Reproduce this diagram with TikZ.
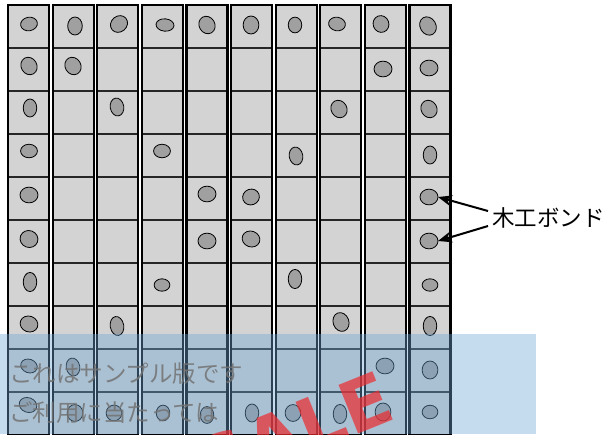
\documentclass[tikz,border=0pt]{standalone}
\usepackage{fontspec}
\newfontfamily\jp{Noto Sans CJK JP}
\newfontfamily\salefont{DejaVu Sans Bold}
\usetikzlibrary{arrows.meta,shapes.geometric}
\definecolor{cellgray}{RGB}{211,211,211}
\definecolor{blobgray}{RGB}{160,160,160}
\definecolor{wmblue}{RGB}{110,167,212}
\definecolor{salered}{RGB}{235,45,50}
\tikzset{
  colbox/.style={fill=cellgray,draw=black,line width=2.2pt},
  rowsep/.style={draw=black!85,line width=2.6pt},
  blob/.style={ellipse,fill=blobgray,draw=black,line width=0.8pt,inner sep=0pt,outer sep=0pt},
  arr/.style={-{Stealth[length=14pt,width=11pt]},line width=2pt,black},
  lbl/.style={font=\jp\fontsize{22.5}{26}\selectfont,inner sep=0pt},
  wmtext/.style={font=\jp\fontsize{23.5}{27}\selectfont,text=black!55,opacity=0.85,inner sep=0pt,anchor=west},
}
\begin{document}
\begin{tikzpicture}[x=1pt,y=-1pt]
\useasboundingbox (0,0) rectangle (615,434);
\clip (0,0) rectangle (615,434);
% columns
\foreach \i in {0,...,9}{
  \pgfmathsetmacro{\xl}{8+44.6*\i}
  \fill[cellgray] (\xl,5) rectangle ++(41,430);
  \foreach \j in {1,...,9}{
    \draw[rowsep] (\xl,5+43*\j) -- ++(41,0);
  }
  \draw[colbox,fill=none] (\xl,5) rectangle ++(41,430);
}
% blobs: col/row/x/y/rx/ry/rot
\foreach \c/\r/\x/\y/\a/\b/\t in {
 1/1/29/24/7.5/6/10, 2/1/75/26/6.5/8/0, 3/1/119/24/8/7/40, 4/1/165/25/8/5.5/-5,
 5/1/207/25/7/8/30, 6/1/251/25/7/8/0, 7/1/295/25/6/7/0, 8/1/337/24/7.5/6/-10,
 9/1/381/24/7/7.5/20, 10/1/428/26/7/8.5/30,
 1/2/29/66/7/8/30, 2/2/73/66/7/8/30, 9/2/383/69/8/7/0, 10/2/429/68/8/7/0,
 1/3/30/108/6/8/0, 3/3/117/107/6/8/10, 8/3/339/109/7/8/30, 10/3/429/109/7/8/30,
 1/4/29/151/7.5/6/0, 4/4/162/151/7.5/6/0, 7/4/296/156/6/8/10, 10/4/430/155/6/8/0,
 1/5/29/195/8/7/0, 5/5/207/194/8/7/0, 6/5/251/197/7.5/7/20, 10/5/429/197/8/7/0,
 1/6/29/239/8/7.5/-20, 5/6/207/241/8/7/0, 6/6/251/239/8/7/-20, 10/6/429/241/8/7/0,
 1/7/30/282/6/8.5/0, 4/7/162/285/7/5.5/0, 7/7/295/279/6/8.5/0, 10/7/430/285/7/5.5/0,
 1/8/29/324/8/7/-20, 3/8/117/326/6/8.5/10, 8/8/341/322/7/8.5/20, 10/8/430/326/6/8.5/0,
 1/9/29/366/7.5/6/-20, 2/9/73/367/6/8/10, 9/9/385/366/8/7/0, 10/9/430/370/7/8/0,
 1/10/28/405/8/6.5/-20, 2/10/75/413/7/7.5/0, 3/10/114/413/7/7/0, 4/10/163/413/6/7/0,
 5/10/207/415/6/7.5/0, 6/10/252/413/6/8/0, 7/10/293/413/7/7.5/0, 8/10/340/414/6/8.5/0,
 9/10/383/412/7/8/0, 10/10/430/412/7/6/0}{
  \node[blob,minimum width=2.25*\a pt,minimum height=2.25*\b pt,rotate=\t] (b\c-\r) at (\x,\y) {};
}
% label and arrows
\node[lbl,anchor=west] (bond) at (492,218) {木工ボンド};
\draw[arr] ([xshift=-4pt,yshift=7pt]bond.west) -- (b10-5.east);
\draw[arr] ([xshift=-4pt,yshift=-8pt]bond.west) -- (b10-6.east);
% watermark
\fill[wmblue,opacity=0.4] (0,334) rectangle (536,434);
\node[wmtext] (wm1) at (9,374) {これはサンプル版です};
\node[wmtext] (wm2) at (9,413) {ご利用に当たっては};
\node[font=\salefont\fontsize{72}{80}\selectfont,text=salered,opacity=0.72,rotate=22,anchor=base,inner sep=0pt] (sale) at (304,456) {SALE};
\end{tikzpicture}
\end{document}
